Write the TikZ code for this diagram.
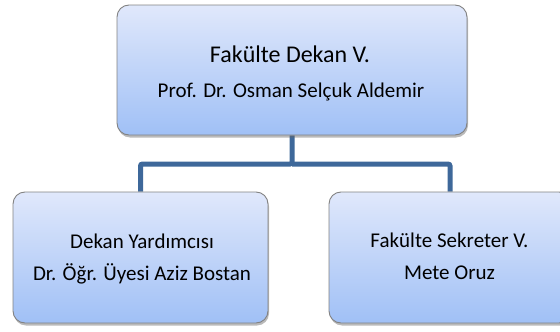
\documentclass[tikz,border=0pt]{standalone}
\usepackage{fontspec}
\setmainfont{Carlito}
\usetikzlibrary{shadows,backgrounds}
\definecolor{boxtop}{RGB}{224,232,251}
\definecolor{boxbot}{RGB}{160,192,246}
\definecolor{boxborder}{RGB}{130,130,130}
\definecolor{linkblue}{RGB}{62,104,154}
\tikzset{
  orgbox/.style={draw=boxborder, line width=0.9pt, rounded corners=12pt,
    top color=boxtop, bottom color=boxbot, inner sep=0pt,
    drop shadow={shadow xshift=1pt, shadow yshift=-2.5pt, opacity=0.45, fill=black!60}},
  txt/.style={anchor=base, inner sep=0pt, font=\fontsize{21}{25}\selectfont},
  bigtxt/.style={txt, font=\fontsize{24}{28}\selectfont},
  link/.style={draw=linkblue, line width=5pt, rounded corners=2pt}
}
\begin{document}
\begin{tikzpicture}[x=1pt,y=-1pt]
\useasboundingbox (0,0) rectangle (560,332);
\begin{scope}
\clip (0,0) rectangle (560,332);
\node[orgbox, minimum width=350pt, minimum height=130pt] (dean) at (292,70) {};
\node[orgbox, minimum width=255pt, minimum height=131pt] (vice) at (140.5,257.5) {};
\node[orgbox, minimum width=242pt, minimum height=131pt] (sec) at (450,257.5) {};
\node[bigtxt] (dean1) at (290,62) {Fakülte Dekan V.};
\node[txt] (dean2) at (291,97) {Prof. Dr. Osman Selçuk Aldemir};
\node[txt] (vice1) at (142,248.5) {Dekan Yardımcısı};
\node[txt] (vice2) at (142,280.5) {Dr. Öğr. Üyesi Aziz Bostan};
\node[txt] (sec1) at (449.5,247.5) {Fakülte Sekreter V.};
\node[txt] (sec2) at (449.5,279.5) {Mete Oruz};
\coordinate (hub) at (292,164);
\begin{scope}[on background layer]
\draw[link] (dean.south) -- (hub) -| (vice.north);
\draw[link] (hub) -| (sec.north);
\end{scope}
\end{scope}
\end{tikzpicture}
\end{document}
